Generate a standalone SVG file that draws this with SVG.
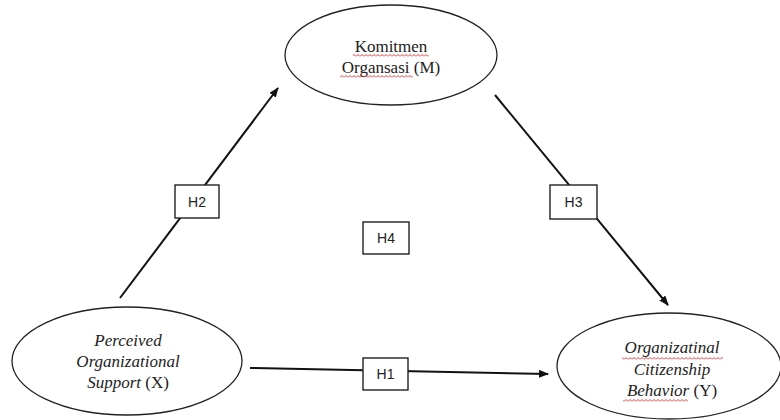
<svg xmlns="http://www.w3.org/2000/svg" width="780" height="420" viewBox="0 0 780 420">
<style>
.node{fill:#fff;stroke:#222;stroke-width:1.3}
.t{font-family:"Liberation Serif","Times New Roman",serif;font-size:17px;fill:#222;text-anchor:middle}
.i{font-style:italic}
.conn{stroke:#111;stroke-width:2;fill:none;marker-end:url(#ah)}
.box{fill:#fff;stroke:#222;stroke-width:1.4}
.lbl{font-family:"Liberation Sans",Arial,sans-serif;font-size:14px;fill:#222;text-anchor:middle}
</style>
<defs>
<marker id="ah" markerWidth="10" markerHeight="8" refX="9" refY="4" orient="auto" markerUnits="userSpaceOnUse">
<path d="M0,0 L10,4 L0,8 z" fill="#111"/>
</marker>
<pattern id="wave" width="4" height="3" patternUnits="userSpaceOnUse">
<path d="M0,2.5 L2,0.5 L4,2.5" stroke="#e02020" stroke-width="0.9" fill="none"/>
</pattern>
</defs>
<rect width="780" height="420" fill="#fff"/>
<g id="connectors">
<line class="conn" x1="120" y1="298" x2="278" y2="88"/>
<line class="conn" x1="495" y1="95" x2="668" y2="305"/>
<line class="conn" x1="250" y1="368" x2="548" y2="374"/>
</g>
<g id="node-M">
<ellipse class="node" cx="391" cy="55" rx="106" ry="50"/>
<text class="t" x="391" y="52">Komitmen</text>
<text class="t" x="391" y="73">Organsasi (M)</text>
<rect x="353" y="54" width="76" height="3" fill="url(#wave)"/>
<rect x="340" y="75" width="73" height="3" fill="url(#wave)"/>
</g>
<g id="node-X">
<ellipse class="node" cx="127" cy="361" rx="115" ry="54"/>
<text class="t i" x="128" y="346">Perceived</text>
<text class="t i" x="128" y="367">Organizational</text>
<text class="t" x="128" y="388"><tspan class="i">Support</tspan> (X)</text>
</g>
<g id="node-Y">
<ellipse class="node" cx="669" cy="366" rx="112" ry="53"/>
<text class="t i" x="672" y="353">Organizatinal</text>
<text class="t i" x="672" y="375">Citizenship</text>
<text class="t" x="672" y="396"><tspan class="i">Behavior</tspan> (Y)</text>
<rect x="622" y="357" width="101" height="3" fill="url(#wave)"/>
<rect x="623" y="399" width="65" height="3" fill="url(#wave)"/>
</g>
<g id="H2">
<rect class="box" x="175" y="185" width="44" height="33"/>
<text class="lbl" x="197" y="207">H2</text>
</g>
<g id="H3">
<rect class="box" x="550" y="185" width="47" height="34"/>
<text class="lbl" x="573.5" y="207">H3</text>
</g>
<g id="H4">
<rect class="box" x="363" y="222" width="46" height="32"/>
<text class="lbl" x="386" y="243">H4</text>
</g>
<g id="H1">
<rect class="box" x="363" y="358" width="45" height="32"/>
<text class="lbl" x="385.5" y="379">H1</text>
</g>
</svg>
